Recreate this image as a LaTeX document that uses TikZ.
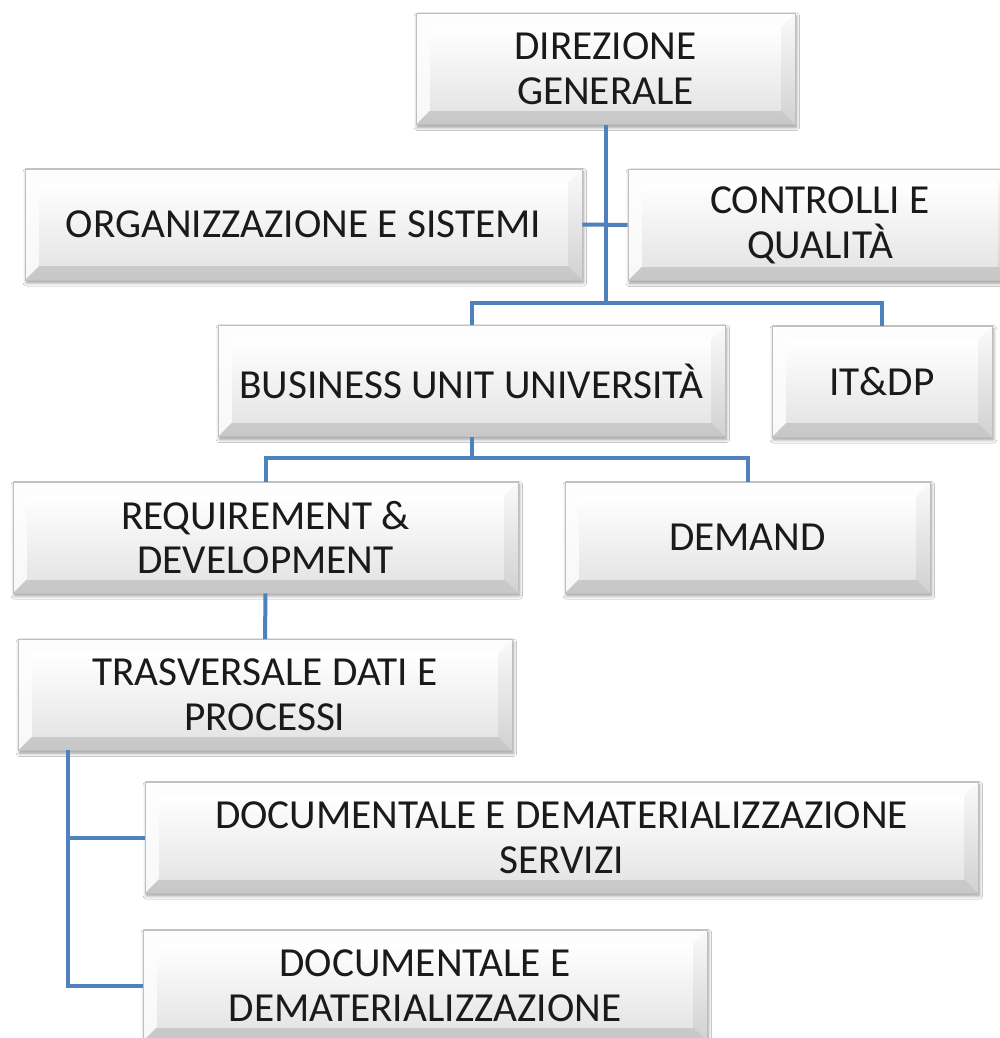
\documentclass[tikz,border=0pt]{standalone}
\usepackage{fontspec}
\setmainfont{Carlito}
\usetikzlibrary{shadows.blur}
\definecolor{orgline}{RGB}{79,129,189}
\definecolor{orgtext}{RGB}{26,26,26}
\tikzset{
  unitbox/.style={
    draw=gray!50, line width=0.4pt, fill=gray!20,
    minimum height=2.22cm, inner sep=0pt, align=center,
    text=orgtext, font=\fontsize{23.5}{25.5}\selectfont,
    blur shadow={shadow xshift=0.8pt, shadow yshift=-1.6pt, shadow blur steps=6, shadow opacity=40},
    path picture={
      \coordinate (pnw) at (path picture bounding box.north west);
      \coordinate (pne) at (path picture bounding box.north east);
      \coordinate (psw) at (path picture bounding box.south west);
      \coordinate (pse) at (path picture bounding box.south east);
      \shade[top color=gray!4, bottom color=gray!36] (pnw) rectangle (pse);
      \fill[white, opacity=0.85] (pnw) -- (psw) -- ([xshift=0.28cm,yshift=0.28cm]psw) -- ([xshift=0.28cm,yshift=-0.28cm]pnw) -- cycle;
      \fill[white, opacity=0.8] (pnw) -- (pne) -- ([xshift=-0.28cm,yshift=-0.28cm]pne) -- ([xshift=0.28cm,yshift=-0.28cm]pnw) -- cycle;
      \fill[gray!55, opacity=0.4] (psw) -- (pse) -- ([xshift=-0.28cm,yshift=0.28cm]pse) -- ([xshift=0.28cm,yshift=0.28cm]psw) -- cycle;
      \shade[top color=white, bottom color=gray!20] ([xshift=0.28cm,yshift=-0.28cm]pnw) rectangle ([xshift=-0.28cm,yshift=0.28cm]pse);
    }
  },
  orglink/.style={draw=orgline, line width=0.08cm}
}
\begin{document}
\begin{tikzpicture}[x=0.02cm, y=-0.02cm]
  \useasboundingbox[fill=white] (0,0) rectangle (1000,1038);
  \node[unitbox, minimum width=7.58cm] (dir) at (605.5,69) {DIREZIONE\\GENERALE};
  \node[unitbox, minimum width=11.14cm] (org) at (303.5,224.5) {ORGANIZZAZIONE E SISTEMI};
  \node[unitbox, minimum width=7.68cm] (ctrl) at (820,225) {CONTROLLI E\\QUALITÀ};
  \node[unitbox, minimum width=10.14cm] (bu) at (471.5,381) {BUSINESS UNIT UNIVERSITÀ};
  \node[unitbox, minimum width=4.40cm] (it) at (882,381.5) {IT\&DP};
  \node[unitbox, minimum width=10.10cm] (req) at (265.5,537.5) {REQUIREMENT \&\\DEVELOPMENT};
  \node[unitbox, minimum width=7.30cm] (dem) at (747.5,537.5) {DEMAND};
  \node[unitbox, minimum width=9.88cm] (tras) at (265,695) {TRASVERSALE DATI E\\PROCESSI};
  \node[unitbox, minimum width=16.66cm] (docs) at (561.5,837.5) {DOCUMENTALE E DEMATERIALIZZAZIONE\\SERVIZI};
  \node[unitbox, minimum width=11.28cm] (docd) at (425,985.5) {DOCUMENTALE E\\DEMATERIALIZZAZIONE};
  \coordinate (busA) at (605.5,303);
  \coordinate (busB) at (471.5,458);
  \coordinate (trasfoot) at (68,750);
  \draw[orglink] (dir.south) -- (busA);
  \draw[orglink] (org.east) -- (ctrl.west);
  \draw[orglink] (bu.north) |- (busA) -| (it.north);
  \draw[orglink] (bu.south) -- (busB);
  \draw[orglink] (req.north) |- (busB) -| (dem.north);
  \draw[orglink] (req.south) -- (tras.north);
  \draw[orglink] (trasfoot) |- (docs.west);
  \draw[orglink] (trasfoot) |- (docd.west);
\end{tikzpicture}
\end{document}
